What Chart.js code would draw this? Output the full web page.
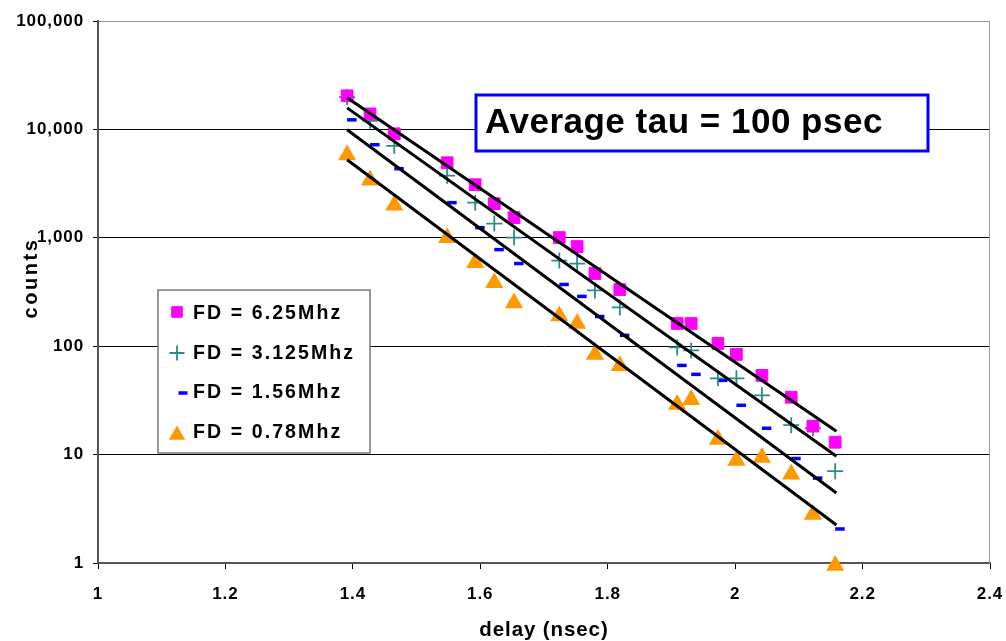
<!DOCTYPE html>
<html><head><meta charset="utf-8">
<script src="https://cdn.jsdelivr.net/npm/chart.js@4/dist/chart.umd.min.js"></script>
<style>html,body{margin:0;padding:0;background:#fff}#wrap{width:1006px;height:641px;position:relative}</style>
</head><body><div id="wrap"><canvas id="c" width="1006" height="641"></canvas></div>
<script>
// ---- data ----
const delayNs      = [1.391,1.427,1.465,1.548,1.592,1.622,1.653,1.724,1.752,1.780,1.819,1.909,1.931,1.973,2.002,2.042,2.088,2.122,2.157];
const countsFD625  = [20400,13900,9110,4925,3090,2065,1535,1005,830,468,333,162,162,106,84,53.8,33.8,18.3,13.0];
const countsFD3125 = [19800,12000,7060,3740,2110,1352,1005,617,579,327,228,97.5,91.5,50.5,50.5,35.2,18.7,17.5,7.03];
const countsFD156  = [12250,7220,4340,2110,1240,778,579,371,288,188,126,66.5,55,48.4,28.5,17.5,9.2,6.07,2.06];
const countsFD078  = [5800,3400,2000,1000,590,385,250,190,162,84,66,29,32,13.8,8.8,9.4,6.6,2.8,0.95];
const fitDelay     = [1.391, 2.159];
const fitFD625     = [19540, 16.4];
const fitFD3125    = [15800, 9.66];
const fitFD156     = [9910, 4.42];
const fitFD078     = [5250, 2.24];
const seriesNames  = ['FD = 6.25Mhz','FD = 3.125Mhz','FD = 1.56Mhz','FD = 0.78Mhz'];
const xTickLabels  = ['1','1.2','1.4','1.6','1.8','2','2.2','2.4'];
const yTickValues  = [1,10,100,1000,10000,100000];
const yTickLabels  = ['1','10','100','1,000','10,000','100,000'];
const xTitle = 'delay (nsec)';
const yTitle = 'counts';
const noteText = 'Average tau = 100 psec';

const FONT = '"Liberation Sans", Arial, sans-serif';
const pts = (xs, ys) => xs.map((x, i) => ({x, y: ys[i]}));

const markerStyles = [
  {pointStyle:'rect', radius:8.3, backgroundColor:'#FF00FF', borderColor:'#FF00FF', borderWidth:1},
  {pointStyle:'cross', radius:8, backgroundColor:'#2A8C8C', borderColor:'#2A8C8C', borderWidth:1.8},
  {pointStyle:'dash', radius:9.5, backgroundColor:'#0000FF', borderColor:'#0000FF', borderWidth:3.5},
  {pointStyle:'triangle', radius:10.5, backgroundColor:'#FF9900', borderColor:'#FF9900', borderWidth:0}
];
const seriesData = [countsFD625, countsFD3125, countsFD156, countsFD078];
const fitData = [fitFD625, fitFD3125, fitFD156, fitFD078];

const datasets = [];
fitData.forEach((f) => datasets.push({
  type:'line', data: pts(fitDelay, f), showLine:true, borderColor:'#000', borderWidth:3,
  pointRadius:0, fill:false, order:0, clip:false
}));
seriesData.forEach((s, i) => {
  const m = markerStyles[i];
  datasets.push({
    label: seriesNames[i], data: pts(delayNs, s), showLine:false, order:1, clip:false,
    pointStyle:m.pointStyle, pointRadius:m.radius, pointHoverRadius:m.radius,
    pointBackgroundColor:m.backgroundColor, pointBorderColor:m.borderColor, pointBorderWidth:m.borderWidth
  });
});

function spacedText(ctx, s, x, y, font, spacing, align) {
  ctx.save();
  ctx.font = font;
  ctx.letterSpacing = spacing + 'px';
  ctx.fillStyle = '#000';
  ctx.textAlign = align || 'left';
  ctx.textBaseline = 'alphabetic';
  ctx.fillText(s, x, y);
  ctx.restore();
}

const decor = {
  id: 'decor',
  beforeDraw(chart) { chart.ctx.letterSpacing = '0.9px'; },
  beforeDatasetsDraw(chart) {
    const ctx = chart.ctx, a = chart.chartArea;
    ctx.save();
    ctx.strokeStyle = '#999'; ctx.lineWidth = 1;
    ctx.beginPath(); ctx.moveTo(a.right - 0.5, a.top); ctx.lineTo(a.right - 0.5, a.bottom); ctx.stroke();
    ctx.restore();
  },
  afterDatasetsDraw(chart) {
    const ctx = chart.ctx;
    // legend box
    ctx.save();
    ctx.fillStyle = '#fff'; ctx.strokeStyle = '#777'; ctx.lineWidth = 1.5;
    ctx.fillRect(158, 290, 212, 163); ctx.strokeRect(158, 290, 212, 163);
    ctx.restore();
    const baselines = [319, 358.5, 398, 438];
    const markY = [312, 353, 393, 435];
    const markX = [177, 177, 178.5, 177];
    seriesNames.forEach((n, i) => {
      const m = markerStyles[i];
      ctx.save();
      ctx.fillStyle = m.backgroundColor; ctx.strokeStyle = m.borderColor; ctx.lineWidth = m.borderWidth;
      const r = i === 1 ? 7.5 : (i === 3 ? 9.5 : (i === 2 ? 9 : 7.5));
      Chart.helpers.drawPoint(ctx, {pointStyle:m.pointStyle, radius:r, rotation:0, borderWidth:m.borderWidth}, markX[i], markY[i]);
      ctx.restore();
      spacedText(ctx, n, 193, baselines[i], 'bold 19.5px ' + FONT, 2.1, 'left');
    });
    // annotation box
    ctx.save();
    ctx.fillStyle = '#fff'; ctx.strokeStyle = '#0000FF'; ctx.lineWidth = 3;
    ctx.fillRect(476, 95, 452, 56); ctx.strokeRect(476, 95, 452, 56);
    ctx.restore();
    spacedText(ctx, noteText, 485, 133, 'bold 35px ' + FONT, 0.5, 'left');
    // axis titles
    spacedText(ctx, xTitle, 544, 636, 'bold 20.5px ' + FONT, 0.9, 'center');
    ctx.save();
    ctx.translate(37, 278); ctx.rotate(-Math.PI / 2);
    spacedText(ctx, yTitle, 0, 0, 'bold 20px ' + FONT, 2.6, 'center');
    ctx.restore();
  }
};

new Chart(document.getElementById('c'), {
  type: 'scatter',
  data: { datasets },
  options: {
    responsive: false, animation: false, devicePixelRatio: 1,
    layout: { padding: { top: 21, right: 16, left: 0, bottom: 0 } },
    plugins: { legend: { display: false }, tooltip: { enabled: false } },
    events: [],
    scales: {
      x: {
        type: 'linear', min: 1, max: 2.4,
        afterFit: s => { s.height = 78; s.paddingLeft = 0; s.paddingRight = 0; },
        ticks: { stepSize: 0.2, autoSkip: false, maxRotation: 0, padding: 15, color: '#000',
          font: { family: FONT, size: 17, weight: 'bold' },
          callback: (v, i) => xTickLabels[i] },
        grid: { drawOnChartArea: false, drawTicks: true, tickLength: 6, color: '#000', lineWidth: 1 },
        border: { display: true, color: '#555', width: 2 }
      },
      y: {
        type: 'logarithmic', min: 1, max: 100000,
        afterFit: s => { s.width = 98; s.paddingTop = 0; s.paddingBottom = 0; },
        afterBuildTicks: s => { s.ticks = yTickValues.map(v => ({ value: v, major: true })); },
        ticks: { padding: 9, color: '#000', autoSkip: false,
          font: { family: FONT, size: 17, weight: 'bold' },
          callback: v => yTickLabels[yTickValues.indexOf(v)] },
        grid: { color: c => (c.tick && c.tick.value === 100000) ? '#999' : '#000', lineWidth: 1,
          tickLength: 5, tickColor: '#000' },
        border: { display: true, color: '#555', width: 2 }
      }
    }
  },
  plugins: [decor]
});
</script>
</body></html>
